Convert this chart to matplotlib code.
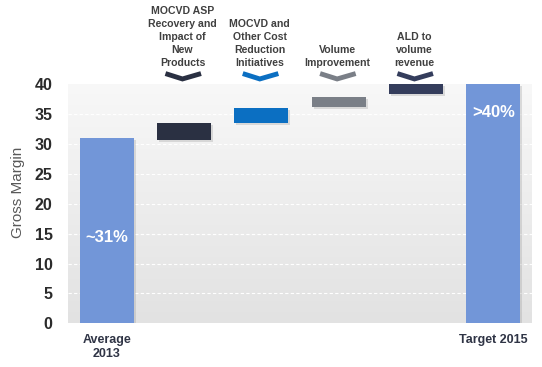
import numpy as np
import matplotlib
matplotlib.use('Agg')
import matplotlib.pyplot as plt
import matplotlib.patheffects as pe

plt.rcParams['font.family'] = ['Liberation Sans', 'DejaVu Sans']

# totals at both ends
tick_labels = ['Average\n2013', '', '', '', '', 'Target 2015']
total_pos = [0, 5]
total_vals = [31, 40]
total_text = ['~31%', '>40%']
total_text_y = [14.3, 35.2]

# floating step bars
step_pos = [1, 2, 3, 4]
step_bottoms = [30.6, 33.5, 36.1, 38.3]
step_tops = [33.5, 36.0, 37.9, 40.0]
step_labels = ['MOCVD ASP\nRecovery and\nImpact of\nNew\nProducts',
               'MOCVD and\nOther Cost\nReduction\nInitiatives',
               'Volume\nImprovement',
               'ALD to\nvolume\nrevenue']
step_colors = ['#2a3042', '#0b6fc2', '#7a7f87', '#343d5c']
total_color = '#7296d8'

fig = plt.figure(figsize=(5.42, 3.67), dpi=100)
ax = fig.add_axes([0.1255, 0.119, 0.856, 0.652])

# gradient background
grad = np.linspace(0, 1, 256).reshape(-1, 1)
ax.imshow(grad, cmap=matplotlib.colors.LinearSegmentedColormap.from_list('bg', ['#f8f8f8', '#e2e2e2']),
          extent=[0, 1, 0, 1], transform=ax.transAxes, aspect='auto', zorder=0)

for y in range(5, 40, 5):
    ax.axhline(y, color='white', lw=0.8, ls=(0, (3, 2)), zorder=1)

shadow = [pe.SimplePatchShadow(offset=(1.5, -1.5), shadow_rgbFace='#999999', alpha=0.3), pe.Normal()]

bars = ax.bar(total_pos, total_vals, width=0.7, color=total_color, zorder=3)
for b in bars:
    b.set_path_effects(shadow)
for x, t, ty in zip(total_pos, total_text, total_text_y):
    ax.text(x, ty, t, color='white', fontsize=12, fontweight='bold', ha='center', va='center', zorder=4)

heights = np.array(step_tops) - np.array(step_bottoms)
sbars = ax.bar(step_pos, heights, bottom=step_bottoms, width=0.7, color=step_colors, zorder=3)
for b in sbars:
    b.set_path_effects(shadow)

# chevrons and labels above steps
for x, lab, c in zip(step_pos, step_labels, step_colors):
    ax.plot([x - 0.24, x - 0.02, x + 0.22], [41.75, 40.85, 41.75], color=c, lw=3.5,
            solid_capstyle='butt', solid_joinstyle='miter', clip_on=False, zorder=4)
    ax.text(x - 0.02, 42.75, lab, ha='center', va='bottom', fontsize=7.6, fontweight='bold',
            color='#404040', linespacing=1.37, clip_on=False)

ax.set_xlim(-0.5, 5.5)
ax.set_ylim(0, 40)
ax.set_yticks(range(0, 41, 5))
ax.set_xticks(range(6))
ax.set_xticklabels(tick_labels, fontsize=9, fontweight='bold', color='#2f3445')
ax.tick_params(axis='x', length=0, pad=8)
ax.tick_params(axis='y', length=0, pad=11, labelsize=11.5, labelcolor='#2b2b2b')
for lbl in ax.get_yticklabels():
    lbl.set_fontweight('bold')
for s in ax.spines.values():
    s.set_visible(False)

fig.text(18 / 542, 1 - 192 / 367, 'Gross Margin', rotation=90, ha='center', va='center',
         fontsize=11, color='#595959')

fig.savefig('out.png', dpi=100)
